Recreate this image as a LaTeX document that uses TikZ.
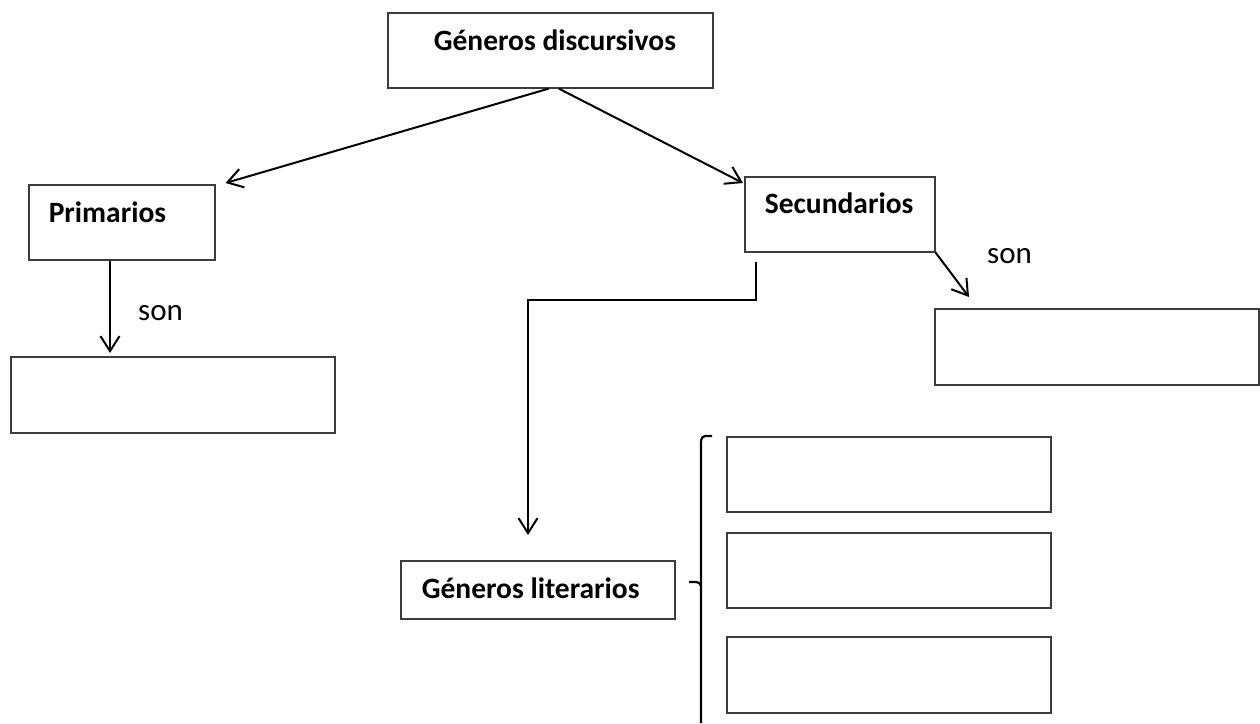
\documentclass[tikz,border=0pt]{standalone}
\usepackage{fontspec}
\setmainfont{Carlito}
\usetikzlibrary{arrows.meta,calc}
\definecolor{boxgray}{HTML}{3C3C3C}
\newcommand\padtext[3]{\makebox[#1][l]{\hspace*{#2}#3}}
\begin{document}
\begin{tikzpicture}[x=1pt,y=-1pt,
  box/.style={draw=boxgray, line width=1.6pt, inner sep=0pt, anchor=north west,
    font=\fontsize{29.5}{31}\selectfont\bfseries},
  ebox/.style={draw=boxgray, line width=1.6pt, inner sep=0pt, anchor=north west},
  arr/.style={draw=black, line width=2pt, -{Straight Barb[length=15pt,width=19pt]}},
  lbl/.style={inner sep=0pt, font=\fontsize{31}{33}\selectfont},
  bracestyle/.style={draw=black, line width=2.2pt}
]
\useasboundingbox (0,0) rectangle (1260,723);

% text boxes
\node[box, text height=38pt, text depth=37pt] (gd) at (387,12) {\padtext{325pt}{46pt}{Géneros discursivos}};
\node[box, text height=38pt, text depth=37pt] (prim) at (28,184) {\padtext{186pt}{20pt}{Primarios}};
\node[box, text height=37pt, text depth=38pt] (sec) at (744,176) {\padtext{190pt}{20pt}{Secundarios}};
\node[box, text height=38pt, text depth=20pt] (gl) at (400,560) {\padtext{274pt}{21pt}{Géneros literarios}};

% empty boxes
\node[ebox, minimum width=324pt, minimum height=76pt] (pb) at (10,356) {};
\node[ebox, minimum width=324pt, minimum height=76pt] (sb) at (934,308) {};
\node[ebox, minimum width=324pt, minimum height=75pt] (r1) at (726,436) {};
\node[ebox, minimum width=324pt, minimum height=75pt] (r2) at (726,532) {};
\node[ebox, minimum width=324pt, minimum height=76pt] (r3) at (726,636) {};

% labels
\node[lbl, anchor=base west] (son1) at (138,320) {son};
\node[lbl, anchor=base west] (son2) at (987,263) {son};

% connectors
\draw[arr] ($(gd.south)+(-1.5,0)$) -- ($(prim.north east)+(10,-1)$);
\draw[arr] ($(gd.south)+(8.5,0)$) -- ($(sec.north west)+(-1,7)$);
\coordinate (pa) at ($(prim.south west)+(82,0)$);
\draw[arr] (pa) -- ($(pa |- pb.north)+(0,-3)$);
\draw[arr] (sec.south east) -- ($(sb.north west)+(35,-11)$);
\coordinate (sa) at ($(sec.south west)+(12,9)$);
\coordinate (ga) at ($(gl.north west)+(128,-25)$);
\draw[arr] (sa) -- ++(0,38) -| (ga);

% brace
\draw[bracestyle] ($(r1.north west)+(-14,0)$) -- ($(r1.north west)+(-21,0)$)
  to[out=180,in=90] ($(r1.north west)+(-25,5)$) -- (701,723);
\draw[bracestyle] (689,582) -- (696,582) to[out=0,in=90] (701,586);
\end{tikzpicture}
\end{document}
